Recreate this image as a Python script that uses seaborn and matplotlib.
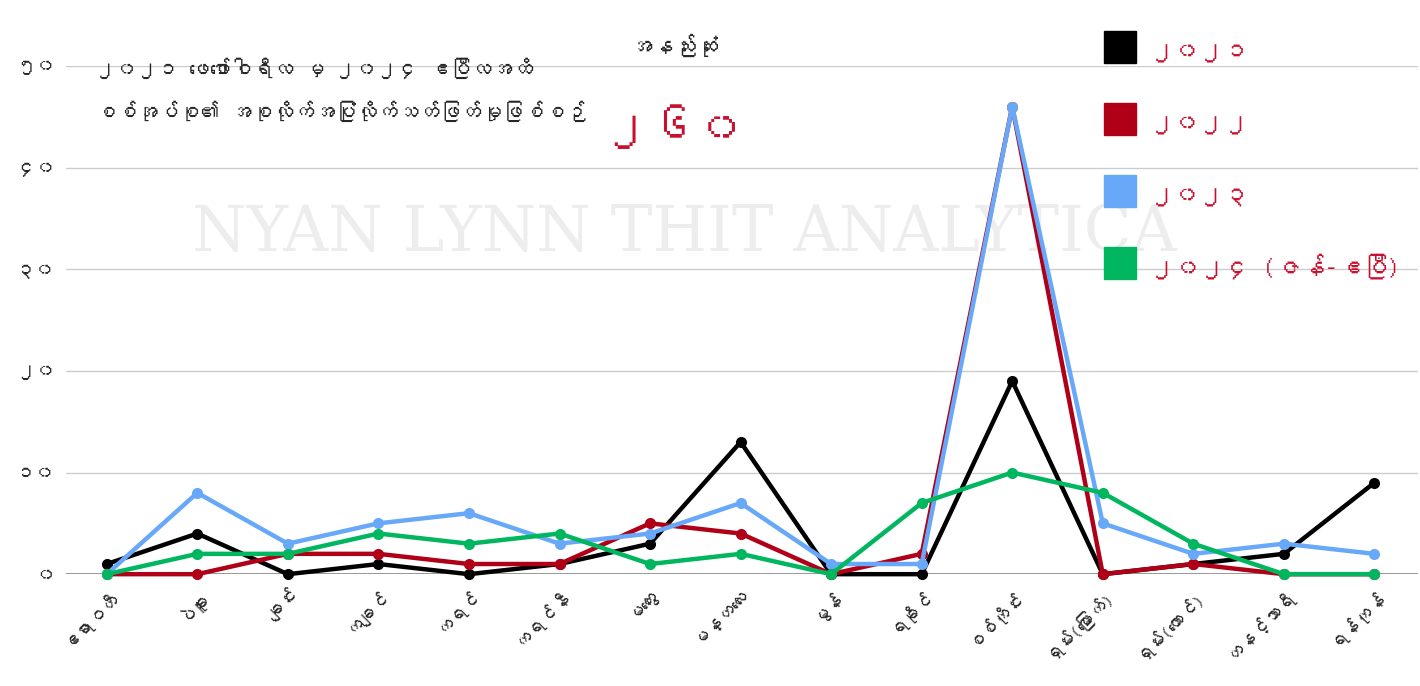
import matplotlib
matplotlib.use("Agg")
import matplotlib.pyplot as plt
from matplotlib import font_manager
from matplotlib.ft2font import FT2Font
import seaborn as sns
import pandas as pd

# regions (x axis)
regions = ["ဧရာဝတီ", "ပဲခူး", "ချင်း", "ကချင်", "ကရင်", "ကရင်နီ", "မကွေး", "မန္တလေး",
           "မွန်", "ရခိုင်", "စစ်ကိုင်း", "ရှမ်း(မြောက်)", "ရှမ်း(တောင်)", "တနင်္သာရီ", "ရန်ကုန်"]

# incidents per year
y2021 = [1, 4, 0, 1, 0, 1, 3, 13, 0, 0, 19, 0, 1, 2, 9]
y2022 = [0, 0, 2, 2, 1, 1, 5, 4, 0, 2, 46, 0, 1, 0, 0]
y2023 = [0, 8, 3, 5, 6, 3, 4, 7, 1, 1, 46, 5, 2, 3, 2]
y2024 = [0, 2, 2, 4, 3, 4, 1, 2, 0, 7, 10, 8, 3, 0, 0]

series_labels = ["၂၀၂၁", "၂၀၂၂", "၂၀၂၃", "၂၀၂၄ (ဇန်-ဧပြီ)"]
series_colors = ["#000000", "#b00018", "#68a8f8", "#00b65e"]

yticks = [0, 10, 20, 30, 40, 50]
ytick_labels = ["၀", "၁၀", "၂၀", "၃၀", "၄၀", "၅၀"]

title_text = "၂၀၂၁ ဖေဖော်ဝါရီလ မှ ၂၀၂၄ ဧပြီလအထိ\nစစ်အုပ်စု၏ အစုလိုက်အပြုံလိုက်သတ်ဖြတ်မှုဖြစ်စဉ်"
least_text = "အနည်းဆုံး"
total_text = "၂၆၀"


# find a font that can draw Myanmar script, if any is installed
def myanmar_font():
    for f in font_manager.fontManager.ttflist:
        try:
            if 0x1000 in FT2Font(f.fname).get_charmap():
                return f.name
        except Exception:
            pass
    return None


sns.set_theme(style="white")
mm = myanmar_font()
fams = ([mm] if mm else []) + ["DejaVu Sans"]
plt.rcParams["font.family"] = fams

df = pd.DataFrame({"region": regions * 4,
                   "x": list(range(len(regions))) * 4,
                   "value": y2021 + y2022 + y2023 + y2024,
                   "year": sum([[lab] * len(regions) for lab in series_labels], [])})

fig = plt.figure(figsize=(14.2, 6.86), dpi=100)
ax = fig.add_axes([0.0465, 0.163, 0.952, 0.741])

# watermark (behind everything)
fig.text(0.482, 0.66, "NYAN LYNN THIT ANALYTICA", fontsize=45, color="#ededed",
         family=["DejaVu Serif"], ha="center", va="center", zorder=-1)

sns.lineplot(data=df, x="x", y="value", hue="year", palette=series_colors,
             marker="o", markersize=8, markeredgewidth=0, linewidth=3.2,
             legend=False, ax=ax, clip_on=False, zorder=3)

ax.set_xlim(-0.45, 14.48)
ax.set_ylim(0, 50)
ax.set_yticks(yticks)
ax.set_yticklabels(ytick_labels, fontsize=14, fontweight="bold")
ax.set_xticks(range(len(regions)))
ax.set_xticklabels(regions, rotation=45, ha="right", rotation_mode="anchor", fontsize=13)
ax.tick_params(axis="x", length=0, pad=8)
ax.tick_params(axis="y", length=0, pad=8)
ax.set_xlabel("")
ax.set_ylabel("")
ax.grid(axis="y", color="#cccccc", linewidth=1)
ax.axhline(0, color="#888888", linewidth=1.2, zorder=2)
ax.patch.set_alpha(0)
for s in ax.spines.values():
    s.set_visible(False)

# titles
fig.text(0.067, 0.869, title_text, fontsize=15, fontweight="bold", va="center",
         ha="left", linespacing=2.2)
fig.text(0.475, 0.934, least_text, fontsize=16, fontweight="bold", ha="center", va="center")
fig.text(0.474, 0.815, total_text, fontsize=34, fontweight="bold", color="#c8102e",
         ha="center", va="center")

# legend
handles = [plt.Line2D([], [], marker="s", linestyle="", markersize=23, color=c)
           for c in series_colors]
leg = ax.legend(handles, series_labels, loc="upper left", bbox_to_anchor=(0.75, 1.105),
                frameon=False, labelcolor="#c8102e", labelspacing=1.6, handleheight=1.6,
                handlelength=1.4, handletextpad=0.5, prop={"weight": "bold", "size": 18})

fig.savefig("out.png", dpi=100)
